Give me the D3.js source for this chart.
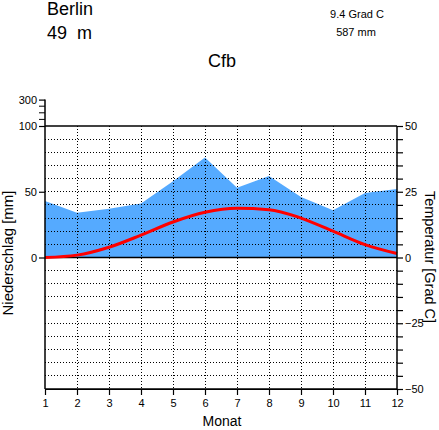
<!DOCTYPE html>
<html>
<head>
<meta charset="utf-8">
<script src="https://cdn.jsdelivr.net/npm/d3@7"></script>
<style>
  body { margin: 0; background: #fff; }
  svg text { font-family: "Liberation Sans", Arial, sans-serif; fill: #000; }
</style>
</head>
<body>
<div id="chart"></div>
<script>
// Climate data for Berlin
let months = [1, 2, 3, 4, 5, 6, 7, 8, 9, 10, 11, 12];
let precip = [43, 34, 37, 41, 58, 76, 53, 62, 46, 36, 49, 52];
let temp = [0.0, 0.9, 3.9, 8.5, 13.5, 17.2, 18.7, 18.2, 15.0, 10.0, 4.9, 1.5];
let precipTicks = [0, 50, 100, 300];
let precipMinorTicks = [150, 200, 250];
let tempTicks = [-50, -25, 0, 25, 50];

let svgWidth = 439;
let svgHeight = 430;

let margin = { top: 126, right: 42, bottom: 41, left: 45 };
let width = svgWidth - margin.left - margin.right;
let height = svgHeight - margin.top - margin.bottom;

let svg = d3.select("#chart")
    .append("svg")
    .attr("width", svgWidth)
    .attr("height", svgHeight);

// Scales
let xScale = d3.scaleLinear()
    .domain([1, 12])
    .range([margin.left, margin.left + width]);
let tempScale = d3.scaleLinear()
    .domain([-50, 50])
    .range([margin.top + height, margin.top]);
// precipitation: 0-100 mm linear, above 100 mm compressed 1:10
let precipScale = d3.scaleLinear()
    .domain([0, 100, 300])
    .range([tempScale(0), tempScale(50), tempScale(50) - 26.4]);

// Precipitation area
let area = d3.area()
    .x((d, i) => xScale(months[i]))
    .y0(precipScale(0))
    .y1(d => precipScale(d));
svg.append("path")
    .datum(precip)
    .attr("d", area)
    .attr("fill", "#55aaff");

// Dotted grid
let gridVals = d3.range(-45, 50, 5).filter(v => v !== 0);
svg.append("g")
    .selectAll("line")
    .data(gridVals)
    .enter()
    .append("line")
    .attr("x1", xScale(1))
    .attr("x2", xScale(12))
    .attr("y1", d => tempScale(d))
    .attr("y2", d => tempScale(d))
    .attr("stroke", "#000")
    .attr("stroke-width", 1)
    .attr("stroke-dasharray", "1,2")
    .attr("shape-rendering", "crispEdges");
svg.append("g")
    .selectAll("line")
    .data(months.slice(1, 11))
    .enter()
    .append("line")
    .attr("x1", d => xScale(d))
    .attr("x2", d => xScale(d))
    .attr("y1", tempScale(50))
    .attr("y2", tempScale(-50))
    .attr("stroke", "#000")
    .attr("stroke-width", 1)
    .attr("stroke-dasharray", "1,2")
    .attr("shape-rendering", "crispEdges");

// Solid frame lines
[50, 0, -50].forEach(v => {
  svg.append("line")
    .attr("x1", xScale(1)).attr("x2", xScale(12))
    .attr("y1", tempScale(v)).attr("y2", tempScale(v))
    .attr("stroke", "#000").attr("stroke-width", 1.5);
});

// Temperature line
let line = d3.line()
    .x((d, i) => xScale(months[i]))
    .y(d => tempScale(d))
    .curve(d3.curveMonotoneX);
svg.append("path")
    .datum(temp)
    .attr("d", line)
    .attr("fill", "none")
    .attr("stroke", "#ff0000")
    .attr("stroke-width", 3);

// Axes
let xAxis = d3.axisBottom(xScale).tickValues(months).tickSize(6).tickPadding(4).tickFormat(d3.format("d"));
svg.append("g")
    .attr("transform", `translate(0, ${tempScale(-50)})`)
    .call(xAxis);

let leftAxis = d3.axisLeft(precipScale).tickValues(precipTicks).tickSize(6).tickPadding(2).tickFormat(d3.format("d"));
let leftG = svg.append("g")
    .attr("transform", `translate(${xScale(1)}, 0)`)
    .call(leftAxis);
leftG.selectAll(".domain").remove();
leftG.append("g")
    .selectAll("line")
    .data(precipMinorTicks)
    .enter()
    .append("line")
    .attr("x1", -6).attr("x2", 0)
    .attr("y1", d => precipScale(d)).attr("y2", d => precipScale(d))
    .attr("stroke", "#000");
leftG.append("line")
    .attr("x1", 0).attr("x2", 0)
    .attr("y1", precipScale(300)).attr("y2", tempScale(-50))
    .attr("stroke", "#000").attr("stroke-width", 1.5);

let rightAxis = d3.axisRight(tempScale).tickValues(d3.range(-50, 55, 5)).tickSize(6).tickPadding(2)
    .tickFormat(d => tempTicks.includes(d) ? d3.format("d")(d) : "");
let rightG = svg.append("g")
    .attr("transform", `translate(${xScale(12)}, 0)`)
    .call(rightAxis);
rightG.selectAll(".domain").remove();
rightG.append("line")
    .attr("x1", 0).attr("x2", 0)
    .attr("y1", tempScale(50)).attr("y2", tempScale(-50))
    .attr("stroke", "#000").attr("stroke-width", 1.5);

svg.selectAll(".tick text").style("font-size", "11px").style("font-family", "Liberation Sans, Arial, sans-serif");
svg.selectAll(".tick line").attr("stroke-width", 1.2);

// Titles and labels
svg.append("text").attr("x", 47).attr("y", 15).style("font-size", "18px").text("Berlin");
svg.append("text").attr("x", 47).attr("y", 39).style("font-size", "18px").text("49  m").attr("xml:space", "preserve");
svg.append("text").attr("x", 222).attr("y", 67).attr("text-anchor", "middle").style("font-size", "18px").text("Cfb");
svg.append("text").attr("x", 357).attr("y", 18).attr("text-anchor", "middle").style("font-size", "11px").text("9.4 Grad C");
svg.append("text").attr("x", 356).attr("y", 36).attr("text-anchor", "middle").style("font-size", "11px").text("587 mm");

svg.append("text")
    .attr("x", 222).attr("y", 426)
    .attr("text-anchor", "middle")
    .style("font-size", "14px")
    .text("Monat");
svg.append("text")
    .attr("transform", "translate(13, 253) rotate(-90)")
    .attr("text-anchor", "middle")
    .style("font-size", "15px")
    .text("Niederschlag [mm]");
svg.append("text")
    .attr("transform", "translate(425, 257) rotate(90)")
    .attr("text-anchor", "middle")
    .style("font-size", "14.5px")
    .text("Temperatur [Grad C]");
</script>
</body>
</html>
